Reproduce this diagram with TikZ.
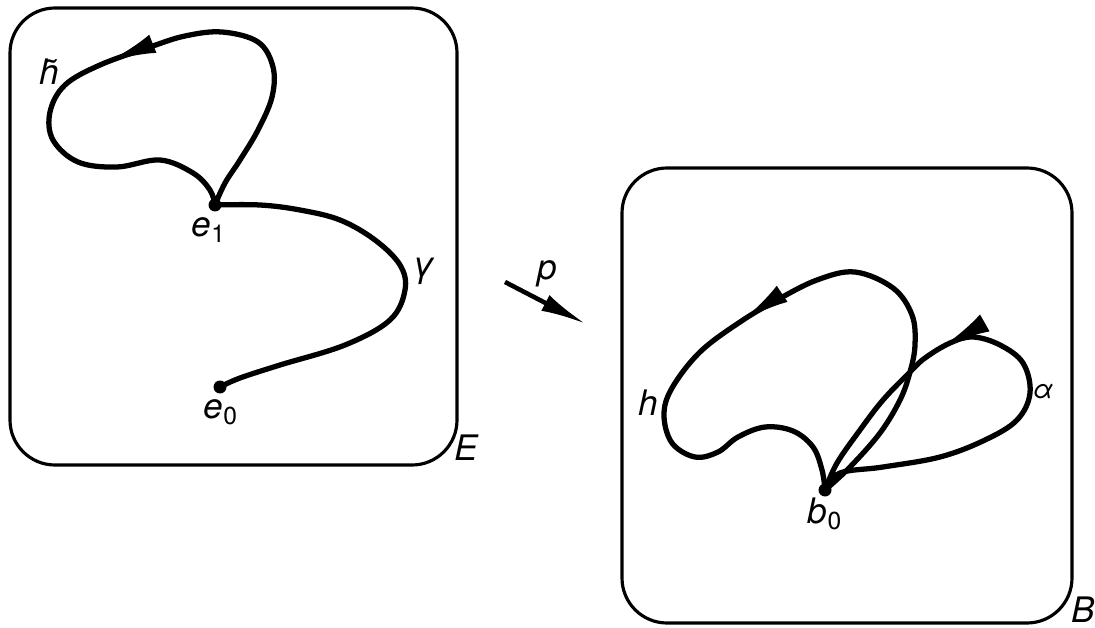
\documentclass[tikz,border=0pt]{standalone}
\usepackage{fontspec}
\setmainfont{TeX Gyre Heros}
\usetikzlibrary{decorations.markings,arrows.meta}
\begin{document}
\begin{tikzpicture}[x=0.02cm,y=-0.02cm,
  box/.style={line width=1.8pt, rounded corners=0.9cm},
  curve/.style={line width=3pt, line join=round, line cap=round},
  dot/.style={circle, fill, inner sep=0pt, minimum size=0.26cm},
  lab/.style={font=\fontsize{20}{22}\selectfont\itshape, inner sep=0pt},
  midarrow/.style={postaction={decorate,decoration={markings,
     mark=at position #1 with {\arrow{Latex[length=28pt,width=11pt]}}}}}
]
\useasboundingbox (0,0) rectangle (1095,628);
% boxes
\draw[box] (10,8) rectangle (457,465);
\draw[box] (622,168) rectangle (1072,623);
% points
\node[dot] (e1) at (215,205) {};
\node[dot] (e0) at (220,387) {};
\node[dot] (b0) at (825,490) {};
% labels
\node[lab] (le1) at (209,230) {e\textsubscript{\upshape 1}};
\node[lab] (le0) at (221,412) {e\textsubscript{\upshape 0}};
\node[lab] (lb0) at (825,514) {b\textsubscript{\upshape 0}};
\node[lab] (lht) at (49,72) {\~{h}};
\node[lab] (lg) at (424,271) {γ};
\node[lab] (lE) at (466,448) {E};
\node[lab] (lB) at (1083,610) {B};
\node[lab] (lh) at (648,403) {h};
\node[lab,font=\fontsize{15}{17}\selectfont\itshape] (la) at (1043,391) {α};
\node[lab] (lp) at (547,274) {p};
% p arrow
\coordinate (p1) at (505,282);
\coordinate (p2) at (586,324);
\draw[line width=2.6pt, -{Latex[length=26pt,width=10pt]}] (p1) -- (p2);
% gamma
\draw[curve] plot[smooth, tension=0.6] coordinates {(e1.center) (260,205) (300,210) (340,220) (375,240) (400,265) (405,290) (390,320) (345,345) (280,365) (240,378) (e0.center)};
% h tilde loop
\draw[curve, midarrow=0.53] plot[smooth, tension=0.6] coordinates {(e1.center) (225,183) (240,160) (258,130) (272,97) (273,67) (258,42) (222,32) (185,36) (150,47) (100,65) (65,85) (50,112) (53,140) (78,162) (117,167) (160,160) (193,173) (210,190) (e1.center)};
% h loop
\draw[curve, midarrow=0.53] plot[smooth, tension=0.6] coordinates {(b0.center) (850,467) (880,433) (900,400) (910,372) (915,345) (912,315) (893,288) (855,272) (817,280) (777,300) (740,322) (700,352) (672,388) (664,415) (672,443) (695,457) (718,452) (738,437) (765,427) (793,431) (813,447) (822,470) (b0.center)};
% alpha loop
\draw[curve, midarrow=0.66] plot[smooth, tension=0.6] coordinates {(b0.center) (840,473) (883,467) (940,457) (985,440) (1017,420) (1030,393) (1023,363) (1000,345) (973,337) (950,343) (925,358) (910,372) (883,400) (860,430) (837,463) (b0.center)};
\end{tikzpicture}
\end{document}
